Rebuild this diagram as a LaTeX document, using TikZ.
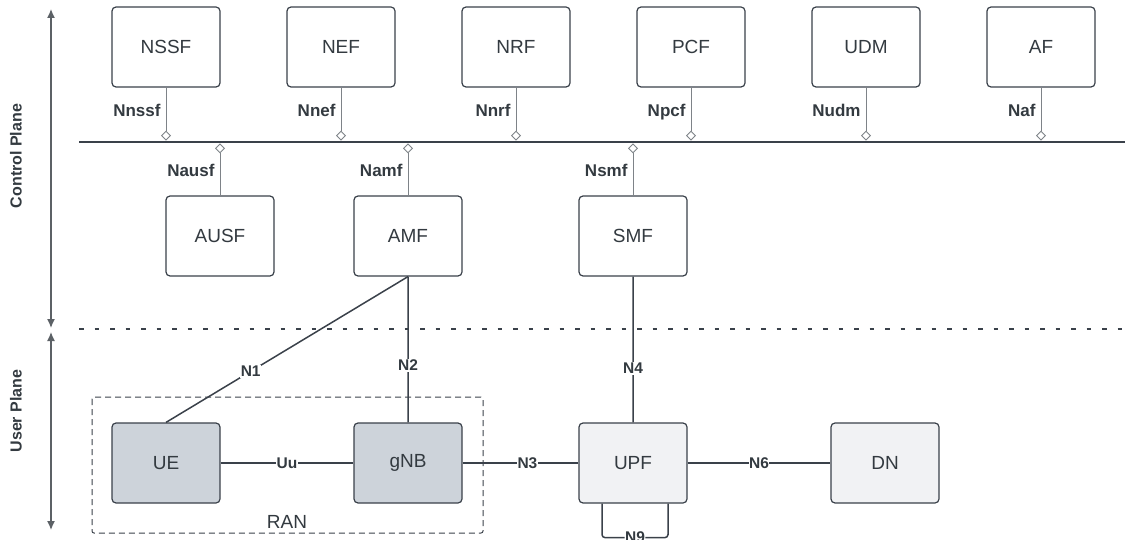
\documentclass[tikz,border=0pt]{standalone}
\usepackage{fontspec}
\setmainfont{Liberation Sans}
\usetikzlibrary{arrows.meta,positioning}

\definecolor{edge}{HTML}{3A414A}
\definecolor{ink}{HTML}{333A40}
\definecolor{wire}{HTML}{7E8388}
\definecolor{axis}{HTML}{5C6166}
\definecolor{ranfill}{HTML}{CDD3DA}
\definecolor{upfill}{HTML}{F1F2F4}

\tikzset{
  nf/.style={draw=edge, line width=1.2pt, rounded corners=4pt, fill=white,
    minimum width=108pt, minimum height=80pt, inner sep=0pt,
    text=ink, font=\fontsize{19}{22}\selectfont},
  ranbox/.style={nf, fill=ranfill},
  upbox/.style={nf, fill=upfill},
  iface/.style={draw=wire, line width=1pt,
    -{Diamond[open, length=10pt, width=10pt, line width=0.9pt]}},
  ifname/.style={inner sep=0pt, text height=12.5pt, text depth=3.5pt,
    text=ink, font=\bfseries\fontsize{17}{20}\selectfont},
  link/.style={draw=edge, line width=1.5pt},
  lbl/.style={fill=white, inner sep=0.5pt, text height=11pt, text depth=1pt,
    text=ink, font=\bfseries\fontsize{15.5}{18}\selectfont},
  plane/.style={rotate=90, text=ink, font=\bfseries\fontsize{16}{19}\selectfont},
}

\begin{document}
\begin{tikzpicture}[x=1pt, y=-1pt, node distance=65.8pt]
    \useasboundingbox (0,0) rectangle (1125,540);

    % Control plane functions
    \node [nf]      (nssf)                          at (166,47)  {NSSF};
    \node [nf]      (nef)   [right=of nssf]                      {NEF};
    \node [nf]      (nrf)   [right=of nef]                       {NRF};
    \node [nf]      (pcf)   [right=of nrf]                       {PCF};
    \node [nf]      (udm)   [right=of pcf]                       {UDM};
    \node [nf]      (af)    [right=of udm]                       {AF};
    \node [nf]      (ausf)                          at (220,236) {AUSF};
    \node [nf]      (amf)                           at (408,236) {AMF};
    \node [nf]      (smf)                           at (633,236) {SMF};

    % User plane functions
    \node [ranbox]  (ue)                            at (166,463) {UE};
    \node [ranbox]  (gnb)   [right=132.8pt of ue]                {gNB};
    \node [upbox]   (upf)   [right=115.8pt of gnb]               {UPF};
    \node [upbox]   (dn)    [right=142.8pt of upf]               {DN};

    % Service bus and plane separator
    \coordinate (busW) at (79,142);
    \coordinate (busE) at (1125,142);
    \coordinate (busN) at (0,140.6);
    \coordinate (busS) at (0,143.4);
    \draw [edge, line width=2.8pt] (busW) -- (busE);
    \coordinate (sepW) at (79,329);
    \coordinate (sepE) at (1125,329);
    \draw [edge, line width=2.6pt, dash pattern=on 4.5pt off 11pt] (sepW) -- (sepE);

    % Service based interfaces
    \draw [iface] (nssf.south) -- node [ifname, left=5pt, pos=0.46] {Nnssf} (nssf.south |- busN);
    \draw [iface] (nef.south)  -- node [ifname, left=5pt, pos=0.46] {Nnef}  (nef.south |- busN);
    \draw [iface] (nrf.south)  -- node [ifname, left=5pt, pos=0.46] {Nnrf}  (nrf.south |- busN);
    \draw [iface] (pcf.south)  -- node [ifname, left=5pt, pos=0.46] {Npcf}  (pcf.south |- busN);
    \draw [iface] (udm.south)  -- node [ifname, left=5pt, pos=0.46] {Nudm}  (udm.south |- busN);
    \draw [iface] (af.south)   -- node [ifname, left=5pt, pos=0.46] {Naf}   (af.south |- busN);
    \draw [iface] (ausf.north) -- node [ifname, left=5pt, pos=0.45] {Nausf} (ausf.north |- busS);
    \draw [iface] (amf.north)  -- node [ifname, left=5pt, pos=0.45] {Namf}  (amf.north |- busS);
    \draw [iface] (smf.north)  -- node [ifname, left=5pt, pos=0.45] {Nsmf}  (smf.north |- busS);

    % Reference points
    \draw [link] (amf.south) -- node [lbl, pos=0.65] {N1} (ue.north);
    \draw [link] (amf.south) -- node [lbl, pos=0.61] {N2} (gnb.north);
    \draw [link] (smf.south) -- node [lbl, pos=0.63] {N4} (upf.north);
    \draw [link] (ue.east)   -- node [lbl]           {Uu} (gnb.west);
    \draw [link] (gnb.east)  -- node [lbl, pos=0.56] {N3} (upf.west);
    \draw [link] (upf.east)  -- node [lbl]           {N6} (dn.west);
    \draw [link, rounded corners=3pt] ([xshift=-31pt]upf.south) -- ++(0,34)
        -| node [lbl, pos=0.25] {N9} ([xshift=35pt]upf.south);

    % RAN group
    \draw [edge, line width=1pt, dash pattern=on 6pt off 4pt, rounded corners=2pt]
        (92,397) rectangle (483,533);
    \node [text=ink, font=\fontsize{19}{22}\selectfont] (ran) at (287,522) {RAN};

    % Plane axes
    \coordinate (cpTop) at (51,9);
    \coordinate (cpBot) at (51,328);
    \coordinate (upTop) at (51,332);
    \coordinate (upBot) at (51,530);
    \draw [axis, line width=1.3pt, {Latex[length=9pt,width=8pt]}-{Latex[length=9pt,width=8pt]}] (cpTop) -- (cpBot);
    \draw [axis, line width=1.3pt, {Latex[length=9pt,width=8pt]}-{Latex[length=9pt,width=8pt]}] (upTop) -- (upBot);
    \node [plane] (cp) at (16,156) {Control Plane};
    \node [plane] (up) at (16,411) {User Plane};

\end{tikzpicture}
\end{document}
